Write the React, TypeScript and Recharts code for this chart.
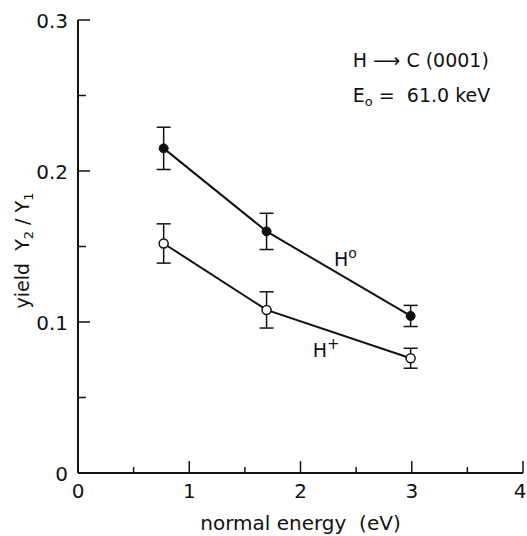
import {
  ComposedChart,
  Line,
  XAxis,
  YAxis,
  ErrorBar,
  ReferenceDot,
  Label,
} from 'recharts'

const FONT = '"DejaVu Sans", sans-serif'
const INK = '#111'

// normal energy (eV)
const energy = [0.77, 1.695, 2.99]
// H0 yield Y2/Y1 and error
const h0Yield = [0.215, 0.16, 0.104]
const h0Err = [0.014, 0.012, 0.007]
// H+ yield Y2/Y1 and error
const hpYield = [0.152, 0.108, 0.076]
const hpErr = [0.013, 0.012, 0.0066]

const xTicks = [0, 0.5, 1, 1.5, 2, 2.5, 3, 3.5, 4]
const xMajor = [0, 1, 2, 3, 4]
const yTicks = [0, 0.05, 0.1, 0.15, 0.2, 0.25, 0.3]
const yMajor = [0, 0.1, 0.2, 0.3]

const data = energy.map((x, i) => ({
  x,
  h0: h0Yield[i],
  h0Err: h0Err[i],
  hp: hpYield[i],
  hpErr: hpErr[i],
}))

const TICK_MARGIN = 10
const isMajor = (list: number[], v: number) => list.some((m) => Math.abs(m - v) < 1e-9)

function XTick({ x, y, payload }: any) {
  const major = isMajor(xMajor, payload.value)
  const ay = y - TICK_MARGIN
  // last label sits against the page edge, nudge it in
  const dx = payload.value === 4 ? -3 : 0
  return (
    <g>
      <line x1={x} x2={x} y1={ay} y2={ay - (major ? 12 : 6)} stroke={INK} strokeWidth={1.5} />
      {major && (
        <text x={x + dx} y={y} dy="0.75em" textAnchor="middle" fontFamily={FONT} fontSize={20} fill={INK}>
          {payload.value}
        </text>
      )}
    </g>
  )
}

function YTick({ x, y, payload }: any) {
  const major = isMajor(yMajor, payload.value)
  const ax = x + TICK_MARGIN
  return (
    <g>
      <line x1={ax} x2={ax + (major ? 12 : 8)} y1={y} y2={y} stroke={INK} strokeWidth={1.5} />
      {major && (
        <text x={x} y={y} dy="0.4em" textAnchor="end" fontFamily={FONT} fontSize={20} fill={INK}>
          {payload.value === 0 ? '0' : payload.value.toFixed(1)}
        </text>
      )}
    </g>
  )
}

function YTitle({ viewBox }: any) {
  const cx = viewBox.x + 29
  const cy = viewBox.y + viewBox.height / 2 + 4
  return (
    <text
      x={cx}
      y={cy}
      transform={`rotate(-90 ${cx} ${cy})`}
      textAnchor="middle"
      fontFamily={FONT}
      fontSize={19}
      fill={INK}
      style={{ whiteSpace: 'pre' }}
    >
      {'yield  Y'}<tspan dy={4} fontSize={13}>2</tspan>
      <tspan dy={-4}>{' / Y'}</tspan>
      <tspan dy={4} fontSize={13}>1</tspan>
    </text>
  )
}

function XTitle({ viewBox }: any) {
  const cx = viewBox.x + viewBox.width / 2
  return (
    <text x={cx} y={530} textAnchor="middle" fontFamily={FONT} fontSize={20} fill={INK} style={{ whiteSpace: 'pre' }}>
      {'normal energy  (eV)'}
    </text>
  )
}

function Note({ lines }: { lines: React.ReactNode }) {
  return ({ viewBox }: any) => (
    <text x={viewBox.x} y={viewBox.y} fontFamily={FONT} fontSize={19} fill={INK} style={{ whiteSpace: 'pre' }}>
      {lines}
    </text>
  )
}

export default function App() {
  return (
    <div style={{ position: 'fixed', left: 0, top: 0, background: '#fff' }}>
      <ComposedChart
        width={527}
        height={536}
        data={data}
        margin={{ top: 20, right: 4, bottom: 0, left: 0 }}
      >
        <XAxis
          dataKey="x"
          type="number"
          domain={[0, 4]}
          ticks={xTicks}
          interval={0}
          height={63}
          tickSize={0}
          tickMargin={TICK_MARGIN}
          tickLine={false}
          axisLine={{ stroke: INK, strokeWidth: 2 }}
          tick={<XTick />}
        >
          <Label content={<XTitle />} />
        </XAxis>
        <XAxis xAxisId="top" orientation="top" type="number" domain={[0, 4]} height={0} tick={false} tickLine={false} axisLine={{ stroke: INK, strokeWidth: 2 }} />
        <YAxis
          type="number"
          domain={[0, 0.3]}
          ticks={yTicks}
          interval={0}
          width={78}
          tickSize={0}
          tickMargin={TICK_MARGIN}
          tickLine={false}
          axisLine={{ stroke: INK, strokeWidth: 2 }}
          tick={<YTick />}
        >
          <Label content={<YTitle />} />
        </YAxis>
        <YAxis yAxisId="right" orientation="right" type="number" domain={[0, 0.3]} width={0} tick={false} tickLine={false} axisLine={{ stroke: INK, strokeWidth: 2 }} />

        <Line
          dataKey="h0"
          stroke={INK}
          strokeWidth={2}
          dot={{ r: 4.5, fill: INK, stroke: INK, strokeWidth: 1 }}
          isAnimationActive={false}
        >
          <ErrorBar dataKey="h0Err" direction="y" width={7} stroke={INK} strokeWidth={1.5} />
        </Line>
        <Line
          dataKey="hp"
          stroke={INK}
          strokeWidth={2}
          dot={{ r: 4.5, fill: '#fff', stroke: INK, strokeWidth: 1.5 }}
          isAnimationActive={false}
        >
          <ErrorBar dataKey="hpErr" direction="y" width={7} stroke={INK} strokeWidth={1.5} />
        </Line>

        <ReferenceDot x={2.47} y={0.269} r={0} fill="none" stroke="none" label={Note({ lines: 'H ⟶ C (0001)' })} />
        <ReferenceDot
          x={2.47}
          y={0.2455}
          r={0}
          fill="none"
          stroke="none"
          label={Note({
            lines: (
              <>
                E<tspan dy={4} fontSize={13}>o</tspan>
                <tspan dy={-4}>{' =  61.0 keV'}</tspan>
              </>
            ),
          })}
        />
        <ReferenceDot
          x={2.3}
          y={0.137}
          r={0}
          fill="none"
          stroke="none"
          label={Note({
            lines: (
              <>
                H<tspan dy={-8} fontSize={14}>o</tspan>
              </>
            ),
          })}
        />
        <ReferenceDot
          x={2.11}
          y={0.0768}
          r={0}
          fill="none"
          stroke="none"
          label={Note({
            lines: (
              <>
                H<tspan dy={-8} fontSize={15}>+</tspan>
              </>
            ),
          })}
        />
      </ComposedChart>
    </div>
  )
}
